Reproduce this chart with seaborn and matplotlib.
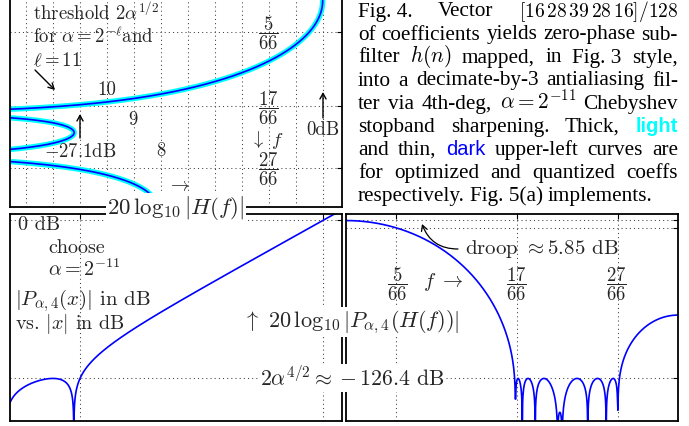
import numpy as np
import matplotlib
matplotlib.use("Agg")
import matplotlib.pyplot as plt
import seaborn as sns
from numpy.polynomial import chebyshev as C

# ---------------- data ----------------
coeffs = [16, 28, 39, 28, 16]          # h(n) numerators
coeff_scale = 128                      # common denominator
ell = 11                               # alpha = 2^-ell
cheb_order = 4                         # 4th-degree Chebyshev sharpening
band_edges = [5 / 66, 17 / 66, 27 / 66]
band_labels = [r"$\dfrac{5}{66}$", r"$\dfrac{17}{66}$", r"$\dfrac{27}{66}$"]
ell_labels = ["10", "9", "8"]
droop_db = -5.85
n_freq = 1001

# ---------------- derived responses ----------------
alpha = 2.0 ** -ell
thresh = 2 * alpha ** 0.5                     # 2 alpha^{1/2}
ripple = 2 * alpha ** (cheb_order / 2)        # 2 alpha^{4/2}
thresh_db = 20 * np.log10(thresh)             # -27.1 dB
ripple_db = 20 * np.log10(ripple)             # -126.4 dB
half_db = 20 * np.log10(2 ** -0.5)            # 3.01 dB grid step

f = np.linspace(0, 0.5, n_freq)
h = np.array(coeffs, dtype=float) / coeff_scale
n = np.arange(len(h)) - (len(h) - 1) / 2
Hf = (h[None, :] * np.cos(2 * np.pi * f[:, None] * n[None, :])).sum(axis=1)
H_db = 20 * np.log10(np.abs(Hf))

cheb = np.zeros(cheb_order + 1)
cheb[-1] = 1.0


def P(x):
    return ripple * C.chebval(x / thresh, cheb)


PH_db = 20 * np.log10(np.abs(P(Hf)))
x_db = np.linspace(-36, 3, 3001)
Px_db = 20 * np.log10(np.abs(P(10 ** (x_db / 20))))

# ---------------- figure ----------------
sns.set_style("white")
plt.rcParams["mathtext.fontset"] = "cm"
plt.rcParams["axes.formatter.use_mathtext"] = True
plt.rcParams["font.family"] = ["cmr10", "DejaVu Serif"]

W, HP = 689, 426
fig = plt.figure(figsize=(W / 100, HP / 100), dpi=100)


def box(x0, y0, x1, y1):
    return [x0 / W, 1 - y1 / HP, (x1 - x0) / W, (y1 - y0) / HP]


ax1 = fig.add_axes(box(10, 0, 341.7, 206.7))
ax2 = fig.add_axes(box(10, 214, 342.3, 420.7))
ax3 = fig.add_axes(box(346, 214, 678, 420.7))

pxdb = (323.3 - 80) / -thresh_db
BLUE, CYAN = "#0000FF", "#00FFFF"

# top-left: f (down) vs 20log10|H(f)|
sns.lineplot(x=H_db, y=f, sort=False, estimator=None, color=CYAN, lw=3.9, ax=ax1)
sns.lineplot(x=H_db, y=f, sort=False, estimator=None, color=BLUE, lw=1.2, ax=ax1)
ax1.set_xlim(-313.3 / pxdb, 18.4 / pxdb)
ax1.set_ylim(0.5028, -0.0016)
ax1.set_xticks([k * half_db for k in range(0, 12)])
ax1.set_yticks(band_edges)

# bottom-left: |P(x)| dB vs |x| dB
sns.lineplot(x=x_db, y=Px_db, sort=False, estimator=None, color=BLUE, lw=1.2, ax=ax2)
ax2.set_xlim(-313.3 / pxdb, 19.0 / pxdb)
ax2.set_xticks([thresh_db, 0])
ax2.set_yticks([ripple_db, 0])

# bottom-right: P(H(f)) dB vs f
sns.lineplot(x=f, y=PH_db, sort=False, estimator=None, color=BLUE, lw=1.2, ax=ax3)
ax3.set_xlim(0, 0.5)
ax3.set_xticks(band_edges)
ax3.set_yticks([ripple_db, droop_db, 0])

for ax in (ax2, ax3):
    ax.set_ylim(-160.2, 4.95)

for ax in (ax1, ax2, ax3):
    ax.set_xlabel("")
    ax.set_ylabel("")
    ax.tick_params(direction="in", length=3.5, width=0.8, top=True, right=True,
                   labelbottom=False, labelleft=False, color="black")
    ax.grid(True, linestyle=(0, (1, 3)), color="0.25", lw=0.75)
    for s in ax.spines.values():
        s.set_color("black")
        s.set_linewidth(1.3)
ax1.spines["top"].set_visible(False)
ax1.tick_params(top=False)


# ---------------- text ----------------
def T(x, y, s, size=13.5, ha="left", va="center", **kw):
    return fig.text(x / W, 1 - y / HP, s, fontsize=size, ha=ha, va=va, **kw)


def arrow(x0, y0, x1, y1, rad=0.0, lw=1.0):
    fig.add_artist(matplotlib.patches.FancyArrowPatch(
        (x1 / W, 1 - y1 / HP), (x0 / W, 1 - y0 / HP), transform=fig.transFigure,
        arrowstyle="->,head_length=4,head_width=2.2", lw=lw, color="black",
        connectionstyle=f"arc3,rad={rad}", mutation_scale=1, shrinkA=0, shrinkB=0))


WHITE = dict(facecolor="white", edgecolor="none", pad=1.0)

# top-left panel
T(33, 20, r"threshold $2\alpha^{1/2}$", va="baseline")
T(33, 43, r"for $\alpha = 2^{-\ell}$and", va="baseline")
T(33, 66, r"$\ell = 11$", va="baseline")
arrow(55, 90, 35, 70)
for s, (x, y) in zip(ell_labels, [(107, 90), (133, 120), (161, 151)]):
    T(x, y, s, ha="center")
arrow(80, 114, 80, 138)
T(80, 152, r"$-27.1$dB", ha="center")
for s, y in zip(band_labels, [33, 108, 169]):
    T(268, y, s, ha="center")
T(267, 140, r"$\downarrow\ f$", ha="center")
arrow(323, 92, 323, 118)
T(323, 130, "0dB", ha="center")
T(178, 186, r"$\rightarrow$", ha="center")
T(176, 208, r"$20\,\log_{10}|H(f)|$", size=16.5, ha="center", bbox=WHITE)

# bottom-left panel
T(18, 230, "0 dB", size=14.5, va="baseline")
T(48, 253, "choose", size=14.5, va="baseline")
T(48, 276, r"$\alpha = 2^{-11}$", size=14.5, va="baseline")
T(15, 305, r"$|P_{\alpha,4}(x)|$ in dB", size=15, va="baseline")
T(15, 329, r"vs. $|x|$ in dB", size=14.5, va="baseline")
T(243, 322, r"$\uparrow\ 20\,\log_{10}|P_{\alpha,4}(H(f))|$", size=16, bbox=WHITE)
T(260, 378, r"$2\alpha^{4/2} \approx -126.4$ dB", size=15.7, bbox=WHITE)

# bottom-right panel
T(465, 249, r"droop $\approx 5.85$ dB", size=15)
arrow(422, 224, 458, 249, rad=-0.35, lw=0.9)
for s, x in zip(band_labels, [397, 516, 616]):
    T(x, 284, s, ha="center")
T(423, 282, r"$f\ \rightarrow$", size=14.5)

# ---------------- caption (justified) ----------------
CAP = dict(fontsize=15.3, family="Liberation Serif", color="black")
CAPM = dict(fontsize=14.0, family="Liberation Serif", color="black")
LIGHT = dict(fontsize=14.5, family="Liberation Sans", color=CYAN, weight="bold")
DARK = dict(fontsize=14.5, family="Liberation Sans", color=BLUE)
caption_lines = [
    ["Fig. 4.", "Vector", (r"$[16\,28\,39\,28\,16]/128$", CAPM)],
    ["of", "coefficients", "yields", "zero-phase", "sub-"],
    ["filter", r"$h(n)$", "mapped,", "in", "Fig. 3", "style,"],
    ["into", "a", "decimate-by-3", "antialiasing", "fil-"],
    ["ter", "via", "4th-deg,", r"$\alpha = 2^{-11}$", "Chebyshev"],
    ["stopband", "sharpening.", "Thick,", ("light", LIGHT)],
    ["and", "thin,", ("dark", DARK), "upper-left", "curves", "are"],
    ["for", "optimized", "and", "quantized", "coeffs"],
    ["respectively.", "Fig. 5(a)", "implements."],
]
renderer = fig.canvas.get_renderer()
x0c, x1c = 358, 678
for i, line in enumerate(caption_lines):
    y = 16.5 + i * 23.0
    objs = []
    for tok in line:
        s, kw = (tok if isinstance(tok, tuple) else (tok, CAP))
        objs.append(fig.text(0, 0, s, va="baseline", ha="left", **kw))
    ws = [o.get_window_extent(renderer=renderer).width for o in objs]
    last = i == len(caption_lines) - 1
    gap = 5.0 if last else (x1c - x0c - sum(ws)) / (len(objs) - 1)
    x = x0c
    for o, w in zip(objs, ws):
        o.set_position((x / W, 1 - y / HP))
        x += w + gap

fig.savefig("out.png", dpi=100)
